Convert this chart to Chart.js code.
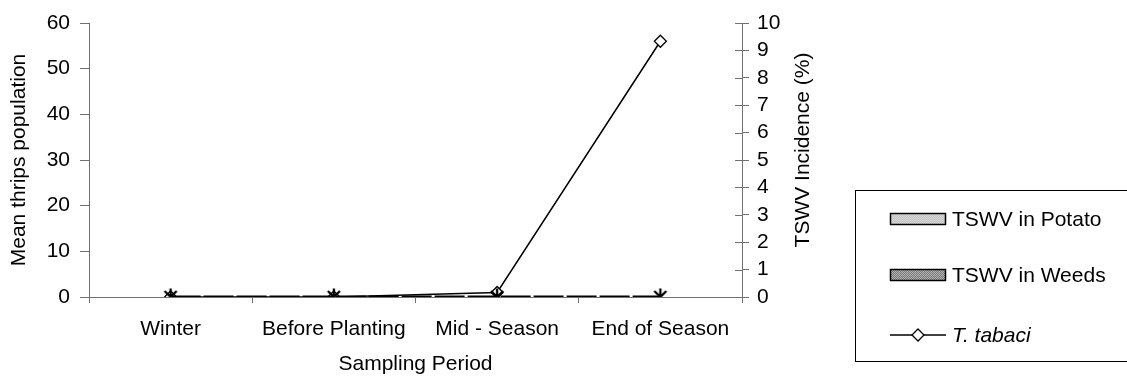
<!DOCTYPE html>
<html>
<head>
<meta charset="utf-8">
<script src="https://cdn.jsdelivr.net/npm/chart.js@4.4.1/dist/chart.umd.min.js"></script>
<style>
  html, body { margin: 0; padding: 0; background: #fff; }
  #wrap { width: 1127px; height: 379px; position: relative; }
</style>
</head>
<body>
<div id="wrap"><canvas id="chart"></canvas></div>
<script>
// Thrips population vs TSWV incidence by sampling period
const PERIODS = ['Winter', 'Before Planting', 'Mid - Season', 'End of Season'];
const TSWV_POTATO = [0, 0, 0, 0];   // % incidence, right axis
const TSWV_WEEDS = [0, 0, 0, 0];    // % incidence, right axis
const T_TABACI = [0, 0, 1, 56];     // mean thrips, left axis
const BASELINE_SERIES = [0, 0, 0, 0]; // asterisk series on the baseline (not in legend)

const LEFT_MAX = 60, LEFT_STEP = 10;
const RIGHT_MAX = 10, RIGHT_STEP = 1;
const RIGHT_TITLE = 'TSWV Incidence (%)';

const FONT = 'Liberation Sans, Arial, sans-serif';
const AXIS_COLOR = '#707070';

// simple dithered fills, like the old Excel patterns
function makePattern(a, b) {
  const c = document.createElement('canvas');
  c.width = 2; c.height = 2;
  const g = c.getContext('2d');
  g.fillStyle = a; g.fillRect(0, 0, 2, 2);
  g.fillStyle = b; g.fillRect(0, 0, 1, 1); g.fillRect(1, 1, 1, 1);
  return g.createPattern(c, 'repeat');
}

// asterisk marker: X with a vertical bar
function makeAsterisk() {
  const c = document.createElement('canvas');
  c.width = 16; c.height = 18;
  const g = c.getContext('2d');
  g.strokeStyle = '#000';
  g.lineWidth = 2.3;
  g.beginPath();
  g.moveTo(2, 3); g.lineTo(14, 15);
  g.moveTo(14, 3); g.lineTo(2, 15);
  g.moveTo(8, 0.5); g.lineTo(8, 17.5);
  g.stroke();
  return c;
}

const potatoFill = makePattern('#c4c4c4', '#d6d6d6');
const weedsFill = makePattern('#7a7a7a', '#b0b0b0');

// legend drawn in the boxed area at bottom right
const legendBox = {
  id: 'legendBox',
  afterDraw(chart) {
    const ctx = chart.ctx;
    ctx.save();
    ctx.strokeStyle = '#000';
    ctx.lineWidth = 1;
    ctx.strokeRect(855.5, 190.5, 300, 171);

    const sx = 890, sw = 56;
    const rows = [219, 275, 335];
    const items = chart.data.datasets.filter(d => d.showInLegend)
      .sort((a, b) => a.legendPos - b.legendPos);
    items.forEach((d, i) => {
      const y = rows[i];
      if (d.type === 'bar') {
        ctx.fillStyle = d.backgroundColor;
        ctx.fillRect(sx, y - 6, sw, 12);
        ctx.strokeStyle = '#000';
        ctx.lineWidth = 1.5;
        ctx.strokeRect(sx + 0.5, y - 5.5, sw - 1, 11);
      } else {
        ctx.strokeStyle = '#000';
        ctx.lineWidth = 1.5;
        ctx.beginPath();
        ctx.moveTo(sx, y); ctx.lineTo(sx + sw, y);
        ctx.stroke();
        const cx = sx + sw / 2, r = 6;
        ctx.fillStyle = '#fff';
        ctx.beginPath();
        ctx.moveTo(cx, y - r); ctx.lineTo(cx + r, y); ctx.lineTo(cx, y + r); ctx.lineTo(cx - r, y);
        ctx.closePath();
        ctx.fill();
        ctx.lineWidth = 1.3;
        ctx.stroke();
      }
      ctx.fillStyle = '#000';
      ctx.font = (d.italic ? 'italic ' : '') + '21px ' + FONT;
      ctx.textBaseline = 'middle';
      ctx.textAlign = 'left';
      ctx.fillText(d.label, sx + sw + 6, y + 1);
    });
    ctx.restore();
  }
};

// right axis: ticks cross the axis line, title reads bottom-to-top
const rightAxisExtras = {
  id: 'rightAxisExtras',
  afterDraw(chart) {
    const s = chart.scales.y1;
    const ctx = chart.ctx;
    ctx.save();
    ctx.strokeStyle = AXIS_COLOR;
    ctx.lineWidth = 1;
    ctx.beginPath();
    s.ticks.forEach(t => {
      const y = Math.round(s.getPixelForValue(t.value)) + 0.5;
      ctx.moveTo(s.left - 7, y);
      ctx.lineTo(s.left, y);
    });
    ctx.stroke();

    ctx.translate(s.right - 14, 150);
    ctx.rotate(-Math.PI / 2);
    ctx.fillStyle = '#000';
    ctx.font = '21px ' + FONT;
    ctx.textAlign = 'center';
    ctx.textBaseline = 'middle';
    ctx.fillText(RIGHT_TITLE, 0, 0);
    ctx.restore();
  }
};

const asterisk = makeAsterisk();

new Chart(document.getElementById('chart'), {
  type: 'bar',
  data: {
    labels: PERIODS,
    datasets: [
      {
        type: 'line',
        label: '',
        data: BASELINE_SERIES,
        yAxisID: 'y',
        borderColor: '#000',
        borderWidth: 3,
        borderDash: [30, 3],
        pointStyle: asterisk,
        pointRadius: 8,
        order: 0,
        showInLegend: false
      },
      {
        type: 'line',
        label: 'T. tabaci',
        data: T_TABACI,
        yAxisID: 'y',
        borderColor: '#000',
        borderWidth: 1.5,
        pointStyle: 'rectRot',
        pointRadius: 6,
        pointBackgroundColor: '#fff',
        pointBorderColor: '#000',
        pointBorderWidth: 1.3,
        tension: 0,
        order: 1,
        showInLegend: true,
        legendPos: 3,
        italic: true
      },
      {
        type: 'bar',
        label: 'TSWV in Potato',
        data: TSWV_POTATO,
        yAxisID: 'y1',
        backgroundColor: potatoFill,
        borderWidth: 0,
        order: 2,
        showInLegend: true,
        legendPos: 1
      },
      {
        type: 'bar',
        label: 'TSWV in Weeds',
        data: TSWV_WEEDS,
        yAxisID: 'y1',
        backgroundColor: weedsFill,
        borderWidth: 0,
        order: 2,
        showInLegend: true,
        legendPos: 2
      }
    ]
  },
  options: {
    responsive: true,
    maintainAspectRatio: false,
    animation: false,
    layout: { padding: { left: 0, top: 23, right: 310, bottom: 0 } },
    plugins: {
      legend: { display: false },
      tooltip: { enabled: false },
      title: { display: false }
    },
    scales: {
      x: {
        offset: true,
        grid: { display: true, drawOnChartArea: false, offset: true, tickLength: 6, color: AXIS_COLOR },
        border: { display: true, color: AXIS_COLOR, width: 1 },
        ticks: { color: '#000', font: { family: FONT, size: 21 }, padding: 14, maxRotation: 0, autoSkip: false },
        title: { display: true, text: 'Sampling Period', color: '#000', font: { family: FONT, size: 21 }, padding: { top: 0, bottom: 2 } },
        afterFit(scale) { scale.height = 82; }
      },
      y: {
        position: 'left',
        min: 0, max: LEFT_MAX,
        grid: { display: true, drawOnChartArea: false, tickLength: 9, color: AXIS_COLOR },
        border: { display: true, color: AXIS_COLOR, width: 1 },
        ticks: { stepSize: LEFT_STEP, autoSkip: false, color: '#000', font: { family: FONT, size: 21 }, padding: 10 },
        title: { display: true, text: 'Mean thrips population', color: '#000', font: { family: FONT, size: 21 }, padding: { top: 7, bottom: 0 } },
        afterFit(scale) { scale.width = 89; }
      },
      y1: {
        position: 'right',
        min: 0, max: RIGHT_MAX,
        grid: { display: true, drawOnChartArea: false, tickLength: 7, color: AXIS_COLOR },
        border: { display: true, color: AXIS_COLOR, width: 1 },
        ticks: { stepSize: RIGHT_STEP, autoSkip: false, color: '#000', font: { family: FONT, size: 21 }, padding: 8 },
        title: { display: false },
        afterFit(scale) { scale.width = 75; }
      }
    }
  },
  plugins: [legendBox, rightAxisExtras]
});
</script>
</body>
</html>
